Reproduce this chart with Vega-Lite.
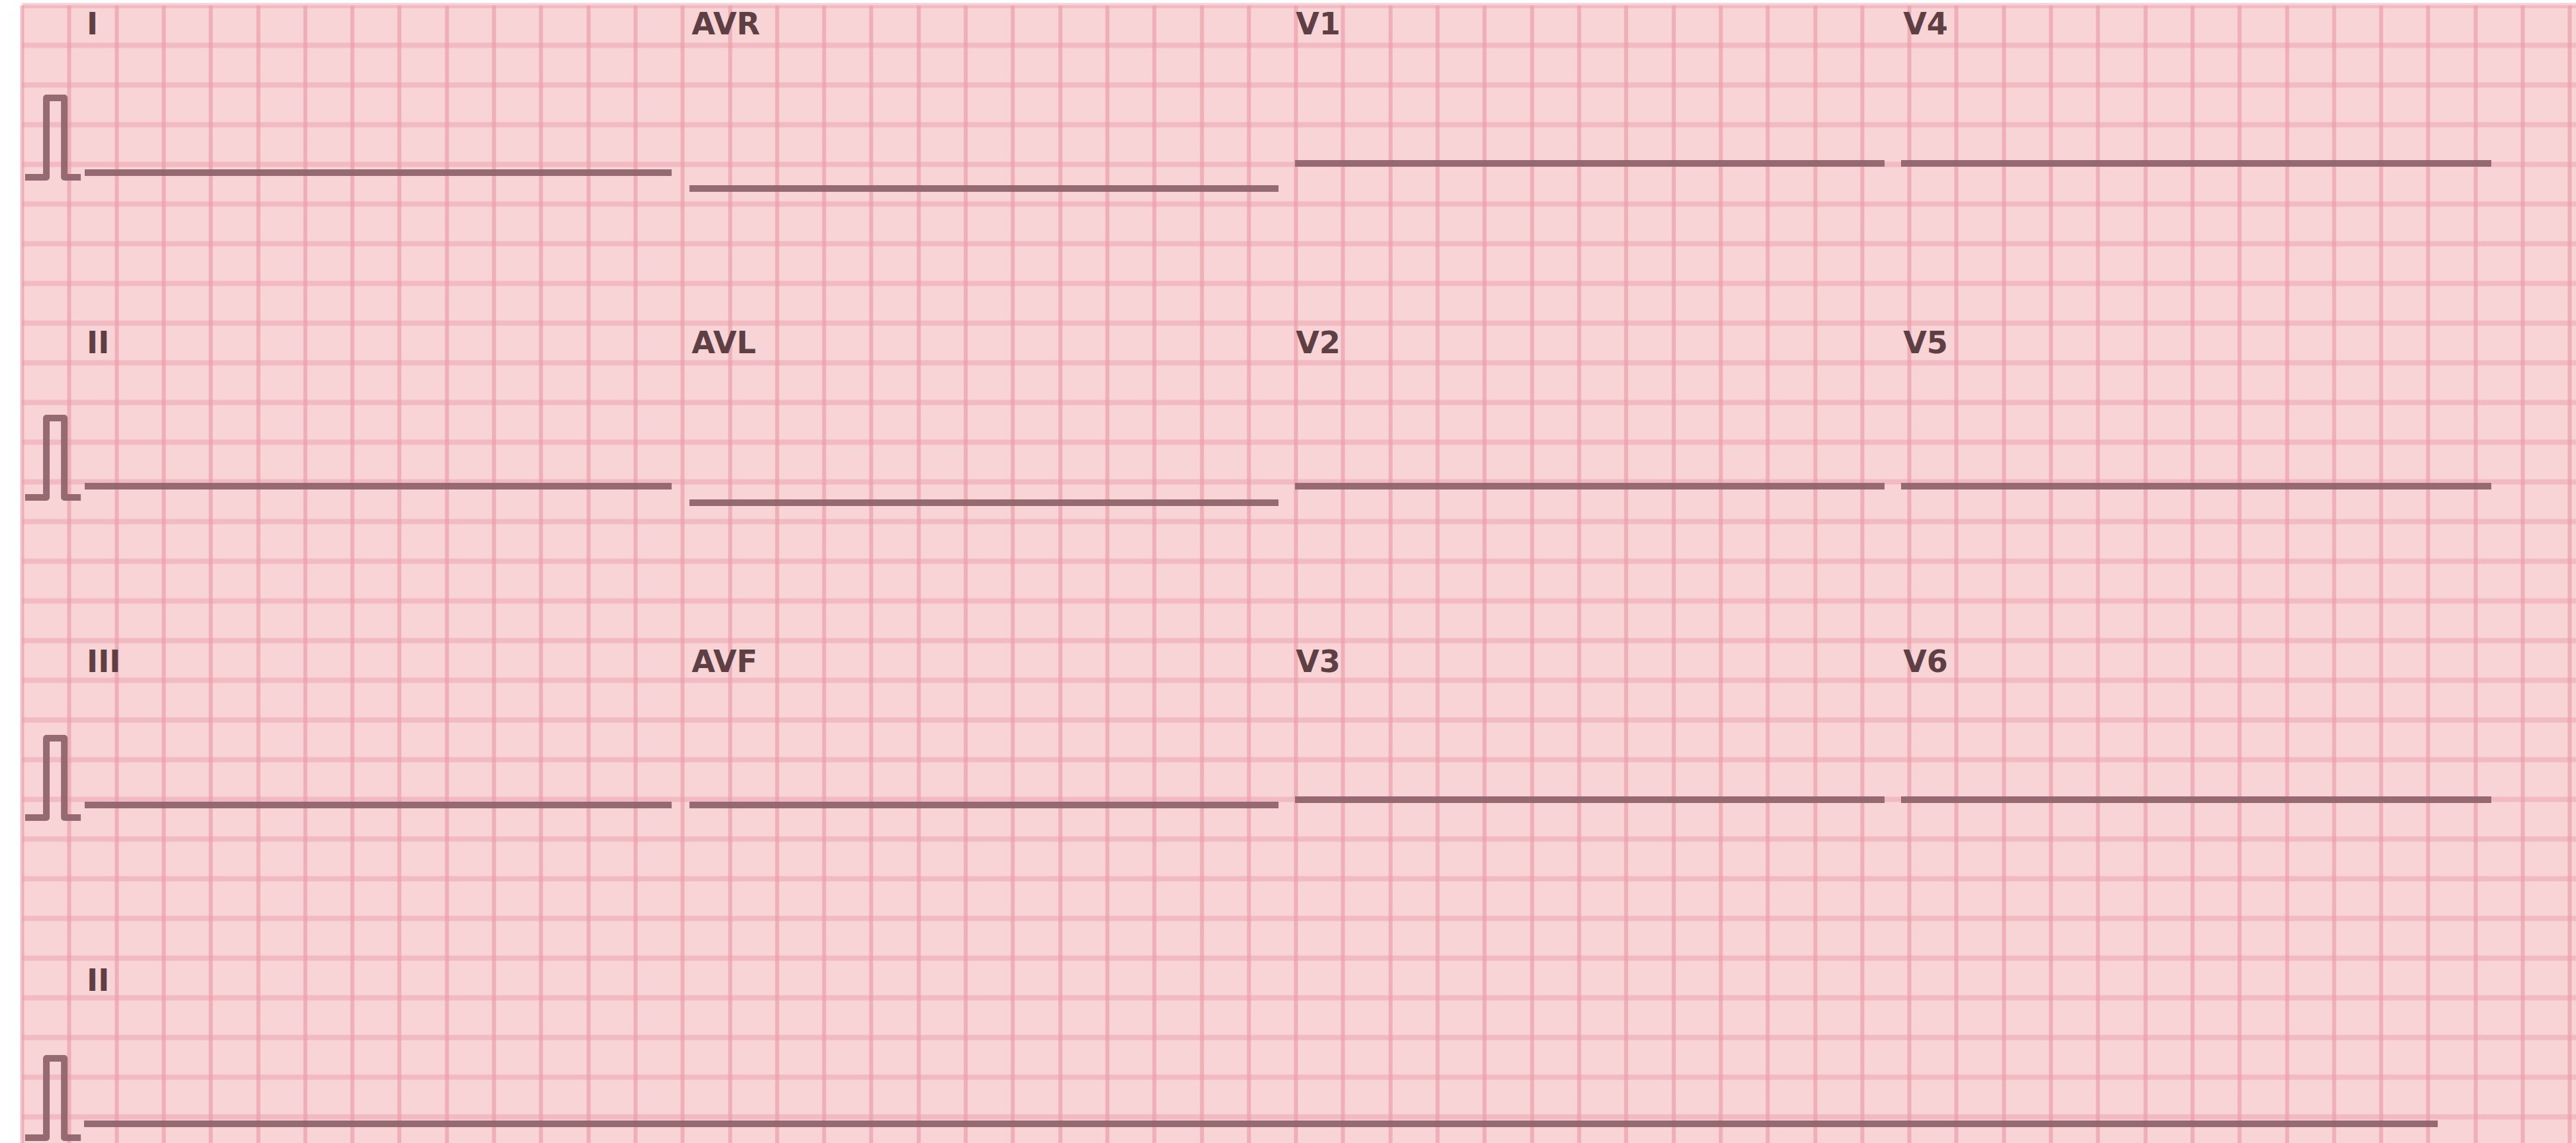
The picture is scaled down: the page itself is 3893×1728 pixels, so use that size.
{
  "$schema": "https://vega.github.io/schema/vega-lite/v6.json",
  "width": 3860,
  "height": 1720,
  "autosize": {"type": "none"},
  "padding": {"left": 33, "top": 8, "right": 0, "bottom": 0},
  "background": "white",
  "config": {"view": {"fill": "#f8d4d6", "stroke": null}},
  "datasets": {
    "traces": [
      {"id": "cal1", "i": 0, "t": 0.014, "v": 11.833},
      {"id": "cal1", "i": 1, "t": 0.104, "v": 11.833},
      {"id": "cal1", "i": 2, "t": 0.104, "v": 12.833},
      {"id": "cal1", "i": 3, "t": 0.180, "v": 12.833},
      {"id": "cal1", "i": 4, "t": 0.180, "v": 11.833},
      {"id": "cal1", "i": 5, "t": 0.250, "v": 11.833},
      {"id": "cal2", "i": 0, "t": 0.014, "v": 7.8},
      {"id": "cal2", "i": 1, "t": 0.104, "v": 7.8},
      {"id": "cal2", "i": 2, "t": 0.104, "v": 8.8},
      {"id": "cal2", "i": 3, "t": 0.180, "v": 8.8},
      {"id": "cal2", "i": 4, "t": 0.180, "v": 7.8},
      {"id": "cal2", "i": 5, "t": 0.250, "v": 7.8},
      {"id": "cal3", "i": 0, "t": 0.014, "v": 3.767},
      {"id": "cal3", "i": 1, "t": 0.104, "v": 3.767},
      {"id": "cal3", "i": 2, "t": 0.104, "v": 4.767},
      {"id": "cal3", "i": 3, "t": 0.180, "v": 4.767},
      {"id": "cal3", "i": 4, "t": 0.180, "v": 3.767},
      {"id": "cal3", "i": 5, "t": 0.250, "v": 3.767},
      {"id": "cal4", "i": 0, "t": 0.014, "v": -0.267},
      {"id": "cal4", "i": 1, "t": 0.104, "v": -0.267},
      {"id": "cal4", "i": 2, "t": 0.104, "v": 0.733},
      {"id": "cal4", "i": 3, "t": 0.180, "v": 0.733},
      {"id": "cal4", "i": 4, "t": 0.180, "v": -0.267},
      {"id": "cal4", "i": 5, "t": 0.250, "v": -0.267},
      {"id": "I", "i": 0, "t": 0.2665, "v": 11.892},
      {"id": "I", "i": 1, "t": 2.7546, "v": 11.892},
      {"id": "AVR", "i": 0, "t": 2.830, "v": 11.692},
      {"id": "AVR", "i": 1, "t": 5.327, "v": 11.692},
      {"id": "V1", "i": 0, "t": 5.397, "v": 12.008},
      {"id": "V1", "i": 1, "t": 7.896, "v": 12.008},
      {"id": "V4", "i": 0, "t": 7.966, "v": 12.008},
      {"id": "V4", "i": 1, "t": 10.468, "v": 12.008},
      {"id": "II", "i": 0, "t": 0.2665, "v": 7.942},
      {"id": "II", "i": 1, "t": 2.7546, "v": 7.942},
      {"id": "AVL", "i": 0, "t": 2.830, "v": 7.733},
      {"id": "AVL", "i": 1, "t": 5.327, "v": 7.733},
      {"id": "V2", "i": 0, "t": 5.397, "v": 7.942},
      {"id": "V2", "i": 1, "t": 7.896, "v": 7.942},
      {"id": "V5", "i": 0, "t": 7.966, "v": 7.942},
      {"id": "V5", "i": 1, "t": 10.468, "v": 7.942},
      {"id": "III", "i": 0, "t": 0.2665, "v": 3.925},
      {"id": "III", "i": 1, "t": 2.7546, "v": 3.925},
      {"id": "AVF", "i": 0, "t": 2.830, "v": 3.925},
      {"id": "AVF", "i": 1, "t": 5.327, "v": 3.925},
      {"id": "V3", "i": 0, "t": 5.397, "v": 3.992},
      {"id": "V3", "i": 1, "t": 7.896, "v": 3.992},
      {"id": "V6", "i": 0, "t": 7.966, "v": 3.992},
      {"id": "V6", "i": 1, "t": 10.468, "v": 3.992},
      {"id": "II-rhythm", "i": 0, "t": 0.2637, "v": -0.092},
      {"id": "II-rhythm", "i": 1, "t": 10.241, "v": -0.092}
    ],
    "labels": [
      {"lead": "I", "t": 0.275, "v": 13.633},
      {"lead": "AVR", "t": 2.839, "v": 13.633},
      {"lead": "V1", "t": 5.400, "v": 13.633},
      {"lead": "V4", "t": 7.975, "v": 13.633},
      {"lead": "II", "t": 0.275, "v": 9.617},
      {"lead": "AVL", "t": 2.839, "v": 9.617},
      {"lead": "V2", "t": 5.400, "v": 9.617},
      {"lead": "V5", "t": 7.975, "v": 9.617},
      {"lead": "III", "t": 0.275, "v": 5.6},
      {"lead": "AVF", "t": 2.839, "v": 5.6},
      {"lead": "V3", "t": 5.400, "v": 5.6},
      {"lead": "V6", "t": 7.975, "v": 5.6},
      {"lead": "II", "t": 0.275, "v": 1.583}
    ]
  },
  "encoding": {
    "x": {
      "field": "t",
      "type": "quantitative",
      "scale": {"domain": [0, 10.827], "nice": false, "zero": false},
      "axis": {
        "grid": true,
        "values": [0, 0.2, 0.4, 0.6, 0.8, 1, 1.2, 1.4, 1.6, 1.8, 2, 2.2, 2.4, 2.6, 2.8, 3, 3.2, 3.4, 3.6, 3.8, 4, 4.2, 4.4, 4.6, 4.8, 5, 5.2, 5.4, 5.6, 5.8, 6, 6.2, 6.4, 6.6, 6.8, 7, 7.2, 7.4, 7.6, 7.8, 8, 8.2, 8.4, 8.6, 8.8, 9, 9.2, 9.4, 9.6, 9.8, 10, 10.2, 10.4, 10.6, 10.8],
        "labels": false,
        "ticks": false,
        "domain": false,
        "title": null,
        "gridColor": "#e5899b",
        "gridOpacity": 0.5,
        "gridWidth": 6
      }
    },
    "y": {
      "field": "v",
      "type": "quantitative",
      "scale": {"domain": [-0.333, 14], "nice": false, "zero": false},
      "axis": {
        "grid": true,
        "values": [0, 0.5, 1, 1.5, 2, 2.5, 3, 3.5, 4, 4.5, 5, 5.5, 6, 6.5, 7, 7.5, 8, 8.5, 9, 9.5, 10, 10.5, 11, 11.5, 12, 12.5, 13, 13.5, 14],
        "labels": false,
        "ticks": false,
        "domain": false,
        "title": null,
        "gridColor": "#ec9fae",
        "gridOpacity": 0.5,
        "gridWidth": 8
      }
    }
  },
  "layer": [
    {
      "data": {"name": "traces"},
      "mark": {"type": "line", "strokeWidth": 10, "color": "#8f646a", "strokeCap": "butt", "strokeJoin": "round", "opacity": 0.95},
      "encoding": {
        "detail": {"field": "id", "type": "nominal"},
        "order": {"field": "i", "type": "quantitative"}
      }
    },
    {
      "data": {"name": "labels"},
      "mark": {"type": "text", "align": "left", "baseline": "alphabetic", "font": "DejaVu Sans", "fontSize": 46, "fontWeight": "bold", "color": "#5e4044"},
      "encoding": {
        "text": {"field": "lead", "type": "nominal"}
      }
    }
  ]
}
